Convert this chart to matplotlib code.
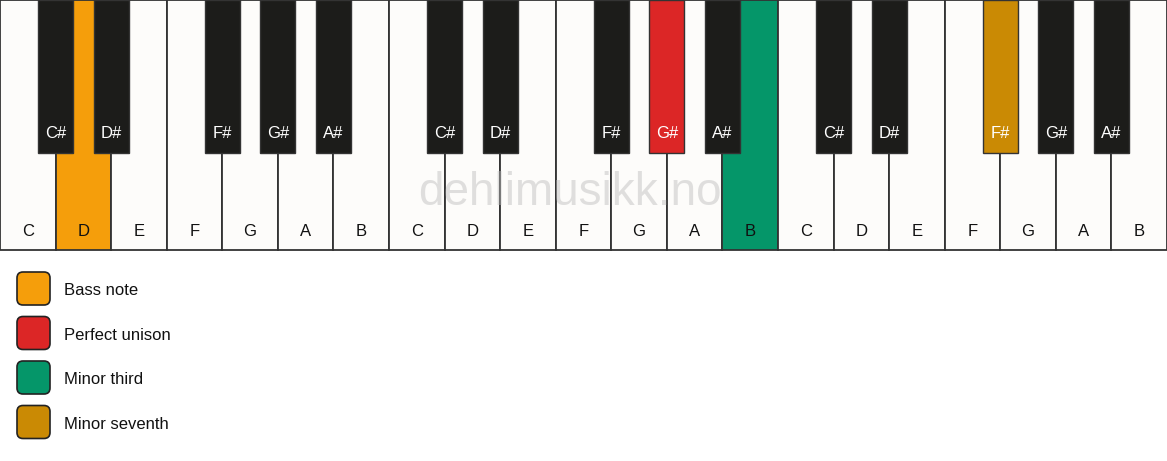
import matplotlib.pyplot as plt
from matplotlib.patches import Rectangle, FancyBboxPatch

white_names = ["C", "D", "E", "F", "G", "A", "B"] * 3
black_names = ["C#", "D#", "F#", "G#", "A#"]
# index of the white key that each black key sits after
black_after = [0, 1, 3, 4, 5]
n_octaves = 3

# highlighted keys: (kind, index) -> colour
highlight = {
    ("w", 1): "#F59E0B",
    ("b", 8): "#DC2626",
    ("w", 13): "#059669",
    ("b", 12): "#CA8A04",
}

legend_labels = ["Bass note", "Perfect unison", "Minor third", "Minor seventh"]
legend_colors = ["#F59E0B", "#DC2626", "#059669", "#CA8A04"]

W, H = 1167, 461
fig = plt.figure(figsize=(W / 100, H / 100), dpi=100)
ax = fig.add_axes([0, 0, 1, 1])
ax.set_xlim(0, W)
ax.set_ylim(H, 0)
ax.axis("off")

key_w = W / len(white_names)
key_h = 250
black_w = 35
black_h = 153
edge = "#333333"
font = "Liberation Sans"

for i, name in enumerate(white_names):
    col = highlight.get(("w", i), "#FDFCFA")
    ax.add_patch(Rectangle((i * key_w, 0), key_w, key_h, facecolor=col,
                           edgecolor=edge, linewidth=1.3, zorder=1))
    ax.text(i * key_w + key_w / 2, 231, name, ha="center", va="center",
            fontsize=12, color="#111111", family=font, zorder=3)

bi = 0
for octv in range(n_octaves):
    for name, after in zip(black_names, black_after):
        x = (octv * 7 + after + 1) * key_w
        col = highlight.get(("b", bi), "#1C1C1A")
        ax.add_patch(Rectangle((x - black_w / 2, 0), black_w, black_h,
                               facecolor=col, edgecolor=edge, linewidth=1.0,
                               zorder=2))
        ax.text(x, 133.5, name, ha="center", va="center", fontsize=12,
                color="white", family=font, zorder=3)
        bi += 1

ax.text(570, 193, "dehlimusikk.no", ha="center", va="center", fontsize=33,
        color="#BBBBBB", alpha=0.45, family=font, zorder=4)

for k, (lab, col) in enumerate(zip(legend_labels, legend_colors)):
    y = 272 + k * 44.5
    ax.add_patch(FancyBboxPatch((17, y), 33, 33,
                                boxstyle="round,pad=0,rounding_size=6",
                                facecolor=col, edgecolor="#222222",
                                linewidth=1.2))
    ax.text(64, y + 18.5, lab, ha="left", va="center", fontsize=12,
            color="#111111", family=font)

fig.savefig("out.png", dpi=100, facecolor="white")
